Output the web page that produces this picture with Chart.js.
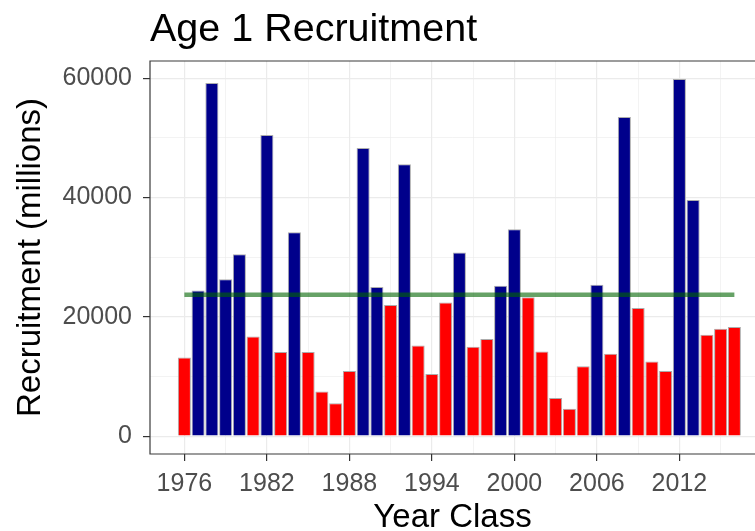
<!DOCTYPE html>
<html>
<head>
<meta charset="utf-8">
<title>Age 1 Recruitment</title>
<script src="https://cdn.jsdelivr.net/npm/chart.js@4.4.1/dist/chart.umd.min.js"></script>
<style>
  html, body { margin: 0; padding: 0; background: #fff; overflow: hidden; }
  #wrap { width: 755px; height: 531px; }
</style>
</head>
<body>
<div id="wrap"><canvas id="recruitChart" width="755" height="531"></canvas></div>
<script>
const years = [1976, 1977, 1978, 1979, 1980, 1981, 1982, 1983, 1984, 1985,
  1986, 1987, 1988, 1989, 1990, 1991, 1992, 1993, 1994, 1995,
  1996, 1997, 1998, 1999, 2000, 2001, 2002, 2003, 2004, 2005,
  2006, 2007, 2008, 2009, 2010, 2011, 2012, 2013, 2014, 2015, 2016];

// millions of fish
const recruitment = [13200, 24400, 59200, 26300, 30500, 16700, 50500, 14100, 34200, 14100,
  7500, 5500, 10900, 48300, 25000, 22000, 45600, 15200, 10400, 22400,
  30800, 15000, 16300, 25200, 34700, 23300, 14200, 6400, 4600, 11700,
  25400, 13800, 53500, 21500, 12500, 10900, 59900, 39600, 17000, 18000, 18300];

const meanRecruitment = 23700;

const xMajorTicks = [1976, 1982, 1988, 1994, 2000, 2006, 2012];
const xMinorTicks = [1979, 1985, 1991, 1997, 2003, 2009, 2015];
const yMajorTicks = [0, 20000, 40000, 60000];
const yMinorTicks = [10000, 30000, 50000];

const FONT = "'Liberation Sans', Arial, sans-serif";
Chart.defaults.font.family = FONT;

const barColors = recruitment.map(v => v > meanRecruitment ? "#00008b" : "#ff0000");

function isMajor(ctx, list) {
  return ctx.tick && list.includes(ctx.tick.value);
}

// panel border (left, top, bottom) and the plot title
const panelExtras = {
  id: "panelExtras",
  afterDraw(chart) {
    const { ctx, chartArea: a } = chart;
    ctx.save();
    ctx.strokeStyle = "#3a3a3a";
    ctx.lineWidth = 1.2;
    ctx.beginPath();
    ctx.moveTo(a.right + 2, a.top);
    ctx.lineTo(a.left, a.top);
    ctx.lineTo(a.left, a.bottom);
    ctx.lineTo(a.right + 2, a.bottom);
    ctx.stroke();

    ctx.fillStyle = "#000";
    ctx.font = "39.5px " + FONT;
    ctx.textBaseline = "alphabetic";
    ctx.textAlign = "left";
    ctx.fillText("Age 1 Recruitment", a.left, 41);
    ctx.restore();
  }
};

const ctx = document.getElementById("recruitChart").getContext("2d");

new Chart(ctx, {
  type: "bar",
  data: {
    datasets: [
      {
        type: "line",
        label: "Mean",
        data: [
          { x: years[0], y: meanRecruitment },
          { x: years[years.length - 1], y: meanRecruitment }
        ],
        borderColor: "rgba(0, 100, 0, 0.6)",
        borderWidth: 4.5,
        pointRadius: 0,
        order: 0
      },
      {
        label: "Recruitment",
        data: years.map((y, i) => ({ x: y, y: recruitment[i] })),
        backgroundColor: barColors,
        borderColor: "#acacac",
        borderWidth: 1,
        barPercentage: 0.95,
        categoryPercentage: 1,
        order: 1
      }
    ]
  },
  options: {
    responsive: false,
    animation: false,
    layout: { padding: { top: 61, left: 0, right: 0, bottom: 0 } },
    plugins: {
      legend: { display: false },
      tooltip: { enabled: false }
    },
    scales: {
      x: {
        type: "linear",
        min: 1973.5,
        max: 2017.5,
        offset: false,
        afterBuildTicks: s => {
          s.ticks = xMajorTicks.concat(xMinorTicks).sort((a, b) => a - b).map(v => ({ value: v }));
        },
        afterFit: s => { s.height = 77; },
        ticks: {
          autoSkip: false,
          maxRotation: 0,
          padding: 8,
          color: "#4d4d4d",
          font: { size: 25 },
          callback: v => xMajorTicks.includes(v) ? String(v) : ""
        },
        grid: {
          offset: false,
          color: "#ebebeb",
          lineWidth: c => isMajor(c, xMajorTicks) ? 1.2 : 0.6,
          tickLength: 7,
          tickWidth: 1.2,
          tickColor: c => isMajor(c, xMajorTicks) ? "#333" : "rgba(0,0,0,0)"
        },
        border: { display: false },
        title: {
          display: true,
          text: "Year Class",
          color: "#000",
          font: { size: 33, lineHeight: 1 },
          padding: { top: 0, bottom: -3 }
        }
      },
      y: {
        min: -3000,
        max: 62900,
        afterBuildTicks: s => {
          s.ticks = yMajorTicks.concat(yMinorTicks).sort((a, b) => a - b).map(v => ({ value: v }));
        },
        afterFit: s => { s.width = 150; },
        ticks: {
          autoSkip: false,
          padding: 11,
          color: "#4d4d4d",
          font: { size: 25 },
          callback: v => yMajorTicks.includes(v) ? String(v) : ""
        },
        grid: {
          color: "#ebebeb",
          lineWidth: c => isMajor(c, yMajorTicks) ? 1.2 : 0.6,
          tickLength: 7,
          tickWidth: 1.2,
          tickColor: c => isMajor(c, yMajorTicks) ? "#333" : "rgba(0,0,0,0)"
        },
        border: { display: false },
        title: {
          display: true,
          text: "Recruitment (millions)",
          color: "#000",
          font: { size: 33, lineHeight: 1 },
          padding: { top: 14, bottom: 0 }
        }
      }
    }
  },
  plugins: [panelExtras]
});
</script>
</body>
</html>
